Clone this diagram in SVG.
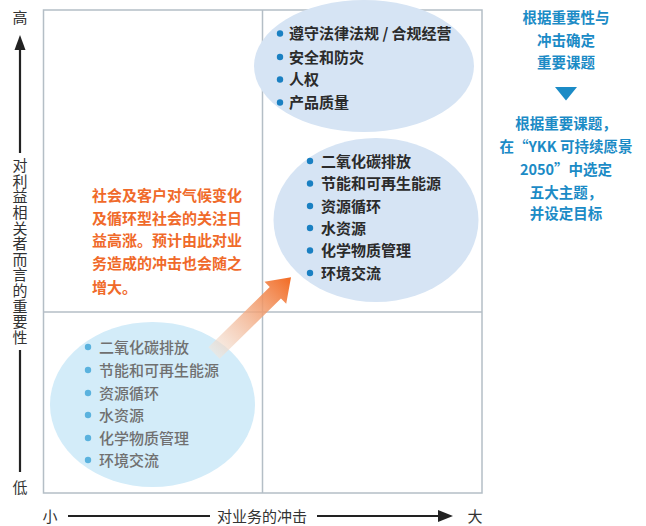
<svg xmlns="http://www.w3.org/2000/svg" width="646" height="526" viewBox="0 0 646 526">
<defs>
<style>
text{font-family:"Noto Sans CJK SC","Noto Sans",sans-serif;}
.grid{fill:none;stroke:#b4bec6;stroke-width:1.5;}
.ax{stroke:#222;stroke-width:2.2;fill:none;}
.axt{font-size:15px;fill:#333;text-anchor:middle;}
.vt{font-size:15px;fill:#333;writing-mode:vertical-rl;letter-spacing:0.6px;}
.it{font-size:15px;fill:#2b2b2b;font-weight:700;}
.lo{font-size:15px;fill:#707070;font-weight:500;}
.or{font-size:15px;fill:#f06a2a;font-weight:700;}
.bl{font-size:14.5px;fill:#1b8bc6;font-weight:700;text-anchor:middle;}
.eh{fill:#d6e4f4;}
.el{fill:#d3ecf9;}
.bd{fill:#1a80c2;}
.bdl{fill:#5ab2de;}
</style>
<linearGradient id="ag" x1="0" y1="0" x2="1" y2="0">
<stop offset="0" stop-color="#f2e6dc" stop-opacity="0.6"/>
<stop offset="1" stop-color="#f26a22"/>
</linearGradient>
</defs>
<rect width="646" height="526" fill="#fff"/>
<g id="grid">
<rect class="grid" x="43.5" y="10" width="438.5" height="483"/>
<line class="grid" x1="262.5" y1="10" x2="262.5" y2="493"/>
<line class="grid" x1="43.5" y1="312" x2="482" y2="312"/>
</g>
<g id="axis-y">
<text class="axt" x="20" y="23">高</text>
<polygon points="20,35 14.5,50 25.5,50" fill="#222"/>
<line class="ax" x1="20" y1="49" x2="20" y2="153"/>
<text class="vt" x="20" y="158">对利益相关者而言的重要性</text>
<line class="ax" x1="20" y1="350" x2="20" y2="472"/>
<text class="axt" x="20" y="493">低</text>
</g>
<g id="axis-x">
<text class="axt" x="50" y="522">小</text>
<line class="ax" x1="68" y1="516" x2="210" y2="516"/>
<text class="axt" x="262" y="522">对业务的冲击</text>
<line class="ax" x1="317" y1="516" x2="440" y2="516"/>
<polygon points="453,516 438,510 438,522" fill="#222"/>
<text class="axt" x="475" y="522">大</text>
</g>
<g id="node-top">
<ellipse class="eh" cx="364" cy="66" rx="110" ry="66"/>
<circle class="bd" cx="280" cy="33.5" r="3.2"/><text class="it" x="289" y="39">遵守法律法规 / 合规经营</text>
<circle class="bd" cx="280" cy="57" r="3.2"/><text class="it" x="289" y="62.5">安全和防灾</text>
<circle class="bd" cx="280" cy="79.5" r="3.2"/><text class="it" x="289" y="85">人权</text>
<circle class="bd" cx="280" cy="102.5" r="3.2"/><text class="it" x="289" y="108">产品质量</text>
</g>
<g id="node-env-high">
<ellipse class="eh" cx="376" cy="220" rx="102.5" ry="82"/>
<circle class="bd" cx="310" cy="161" r="3.2"/><text class="it" x="321" y="166.5">二氧化碳排放</text>
<circle class="bd" cx="310" cy="183.5" r="3.2"/><text class="it" x="321" y="189">节能和可再生能源</text>
<circle class="bd" cx="310" cy="206" r="3.2"/><text class="it" x="321" y="211.5">资源循环</text>
<circle class="bd" cx="310" cy="228" r="3.2"/><text class="it" x="321" y="233.5">水资源</text>
<circle class="bd" cx="310" cy="250.5" r="3.2"/><text class="it" x="321" y="256">化学物质管理</text>
<circle class="bd" cx="310" cy="273" r="3.2"/><text class="it" x="321" y="278.5">环境交流</text>
</g>
<g id="node-env-low">
<ellipse class="el" cx="152.5" cy="404.5" rx="102.5" ry="82.5"/>
<circle class="bdl" cx="88" cy="347" r="3.2"/><text class="lo" x="99" y="352.5">二氧化碳排放</text>
<circle class="bdl" cx="88" cy="370" r="3.2"/><text class="lo" x="99" y="375.5">节能和可再生能源</text>
<circle class="bdl" cx="88" cy="393" r="3.2"/><text class="lo" x="99" y="398.5">资源循环</text>
<circle class="bdl" cx="88" cy="415" r="3.2"/><text class="lo" x="99" y="420.5">水资源</text>
<circle class="bdl" cx="88" cy="438" r="3.2"/><text class="lo" x="99" y="443.5">化学物质管理</text>
<circle class="bdl" cx="88" cy="460" r="3.2"/><text class="lo" x="99" y="465.5">环境交流</text>
</g>
<g id="note-orange">
<text class="or" x="92" y="200.5">社会及客户对气候变化</text>
<text class="or" x="92" y="223.5">及循环型社会的关注日</text>
<text class="or" x="92" y="246">益高涨。预计由此对业</text>
<text class="or" x="92" y="269">务造成的冲击也会随之</text>
<text class="or" x="92" y="292.5">增大。</text>
</g>
<g id="connectors">
<g transform="translate(214,353) rotate(-44.5)">
<polygon points="0,-8 86,-8 86,-15.5 108,0 86,15.5 86,8 0,8" fill="url(#ag)"/>
</g>
</g>
<g id="note-blue">
<text class="bl" x="566" y="22.5">根据重要性与</text>
<text class="bl" x="566" y="46">冲击确定</text>
<text class="bl" x="566" y="68">重要课题</text>
<polygon points="555,87 577,87 566,100.5" fill="#1b8bc6"/>
<text class="bl" x="566" y="128.5">根据重要课题，</text>
<text class="bl" x="566" y="152">在“YKK 可持续愿景</text>
<text class="bl" x="566" y="175">2050”中选定</text>
<text class="bl" x="566" y="197.5">五大主题，</text>
<text class="bl" x="566" y="219">并设定目标</text>
</g>
</svg>
